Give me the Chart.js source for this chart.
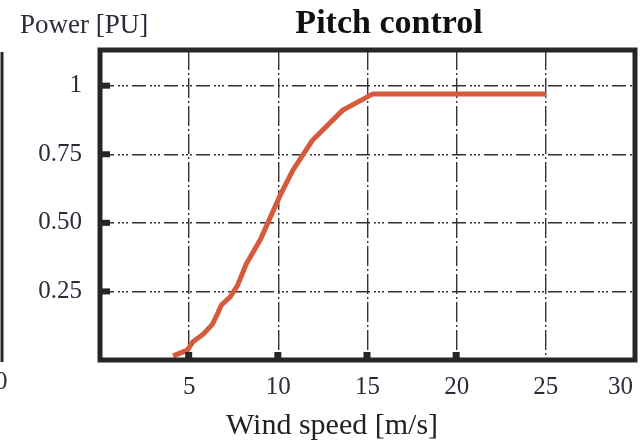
<!DOCTYPE html>
<html>
<head>
<meta charset="utf-8">
<script src="https://cdn.jsdelivr.net/npm/chart.js@4.4.1/dist/chart.umd.min.js"></script>
<style>
html, body { margin: 0; padding: 0; background: #fff; }
#wrap { width: 642px; height: 442px; }
</style>
</head>
<body>
<div id="wrap"><canvas id="canvas" width="642" height="442"></canvas></div>
<script>
// wind speed [m/s] and power [PU]
var windSpeed = [4.1, 4.9, 5.2, 5.8, 6.3, 6.6, 6.8, 7.3, 7.7, 8.2, 9.0, 10.1, 10.8, 11.9, 13.6, 15.3, 25];
var powerPU   = [0.015, 0.036, 0.066, 0.095, 0.13, 0.17, 0.20, 0.23, 0.27, 0.35, 0.44, 0.60, 0.69, 0.80, 0.91, 0.97, 0.97];
var yTickValues = [0.25, 0.5, 0.75, 1];
var yTickLabels = ['0.25', '0.50', '0.75', '1'];
var xTickValues = [5, 10, 15, 20, 25, 30];

var serif = '"Liberation Serif", "DejaVu Serif", serif';
var inkColor = '#2b2b3c';

var points = [];
for (var i = 0; i < windSpeed.length; i++){
	points.push({x: windSpeed[i], y: powerPU[i]});
}

// frame, little tick squares and the loose texts
var decorations = {
	id: 'decorations',
	afterDraw: function(chart){
		var ctx = chart.ctx;
		var area = chart.chartArea;
		var xs = chart.scales.x, ys = chart.scales.y;
		ctx.save();
		ctx.strokeStyle = '#262626';
		ctx.lineWidth = 5;
		ctx.strokeRect(area.left, area.top, area.right - area.left, area.bottom - area.top);
		ctx.fillStyle = '#262626';
		yTickValues.forEach(function(v){
			var py = ys.getPixelForValue(v);
			ctx.fillRect(area.left, py - 3, 10, 6);
		});
		[5, 10, 15, 20].forEach(function(v){
			var px = xs.getPixelForValue(v);
			ctx.fillRect(px - 4, area.bottom - 8, 7, 8);
		});
		// edge of the neighbouring panel
		ctx.lineWidth = 3;
		ctx.beginPath();
		ctx.moveTo(2, 52);
		ctx.lineTo(2, 362);
		ctx.stroke();
		ctx.fillStyle = inkColor;
		ctx.font = '25px ' + serif;
		ctx.textBaseline = 'middle';
		ctx.textAlign = 'left';
		ctx.fillText('0', -5, 382);
		// last x label sits inside the frame, left of its grid line
		ctx.textAlign = 'right';
		ctx.fillText('30', xs.getPixelForValue(30) - 2, 387);
		ctx.textAlign = 'left';
		ctx.font = '27px ' + serif;
		ctx.textBaseline = 'alphabetic';
		ctx.fillText('Power [PU]', 20, 33);
		ctx.fillStyle = '#111';
		ctx.font = 'bold 34px ' + serif;
		ctx.textAlign = 'center';
		ctx.fillText('Pitch control', 389, 33);
		ctx.fillStyle = '#222';
		ctx.font = '30px ' + serif;
		ctx.fillText('Wind speed [m/s]', 332, 434);
		ctx.restore();
	}
};

var config = {
	type: 'line',
	data: {
		datasets: [{
			data: points,
			borderColor: '#d65a3c',
			borderWidth: 5,
			pointRadius: 0,
			tension: 0,
			fill: false
		}]
	},
	options: {
		responsive: false,
		animation: false,
		layout: {padding: {top: 50, right: 7, left: 0, bottom: 0}},
		plugins: {
			legend: {display: false},
			tooltip: {enabled: false}
		},
		scales: {
			x: {
				type: 'linear',
				min: 0,
				max: 30,
				afterFit: function(scale){
					scale.height = 82;
					scale.paddingLeft = 0;
					scale.paddingRight = 0;
				},
				afterBuildTicks: function(scale){
					scale.ticks = xTickValues.map(function(v){ return {value: v}; });
				},
				ticks: {
					color: inkColor,
					font: {family: serif, size: 25},
					padding: 12,
					maxRotation: 0,
					callback: function(value){
						return value == 30 ? '' : String(value);
					}
				},
				grid: {color: '#333', lineWidth: 1.4, drawTicks: false},
				border: {display: false, dash: [20, 3, 2, 3]}
			},
			y: {
				type: 'linear',
				min: 0,
				max: 1.13,
				afterFit: function(scale){
					scale.width = 100;
					scale.paddingTop = 0;
					scale.paddingBottom = 0;
				},
				afterBuildTicks: function(scale){
					scale.ticks = yTickValues.map(function(v){ return {value: v}; });
				},
				ticks: {
					color: inkColor,
					font: {family: serif, size: 25},
					padding: 18,
					callback: function(value){
						var idx = yTickValues.indexOf(value);
						return idx >= 0 ? yTickLabels[idx] : '';
					}
				},
				grid: {color: '#333', lineWidth: 1.4, drawTicks: false},
				border: {display: false, dash: [14, 4, 2, 2, 2, 2, 2, 4]}
			}
		}
	},
	plugins: [decorations]
};

var ctx = document.getElementById('canvas').getContext('2d');
window.myLine = new Chart(ctx, config);
</script>
</body>
</html>
